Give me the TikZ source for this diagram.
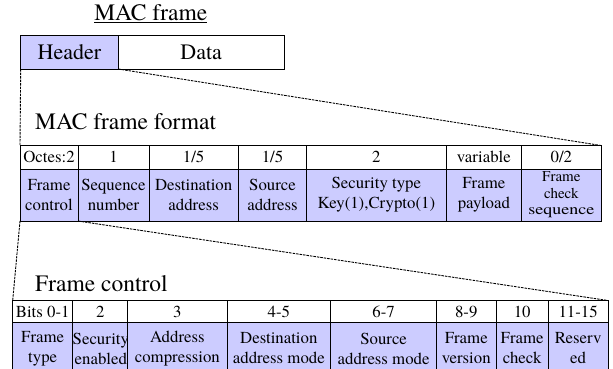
\documentclass[tikz,border=0pt]{standalone}
\usepackage{fontspec}
\setmainfont{TeX Gyre Termes}
\definecolor{cellfill}{RGB}{204,204,255}
\begin{document}
\begin{tikzpicture}[x=1pt,y=-1pt,
  cell/.style={draw=black, line width=1pt, inner sep=0pt, outer sep=0pt,
    anchor=north west, align=center, font=\fontsize{16.8}{20}\selectfont},
  head/.style={cell, fill=white},
  body/.style={cell, fill=cellfill},
  wh/.style 2 args={minimum width=#1pt, minimum height=#2pt},
  link/.style={line width=0.9pt, dash pattern=on 2.5pt off 1pt},
  heading/.style={font=\fontsize{23.5}{26}\selectfont, anchor=base west, inner sep=0pt}]
\useasboundingbox (0,0) rectangle (613,368);

% ---- MAC frame ----
\node[font=\fontsize{23.5}{26}\selectfont, anchor=base, inner sep=0pt] (t0) at (150.8,20.5) {\underline{MAC frame}};
\node[body, wh={97.6}{34}, font=\fontsize{22}{24}\selectfont] (hdr) at (20.7,35) {Header};
\node[head, wh={165.7}{34}, font=\fontsize{22}{24}\selectfont] (data) at (118.3,35) {Data};

% ---- MAC frame format ----
\node[heading] (t1) at (35,129) {MAC frame format};
\node[head, wh={58}{23.5}]   (mh1) at (20,145.5)  {Octes:2};
\node[head, wh={71}{23.5}]   (mh2) at (78,145.5)  {1};
\node[head, wh={89.3}{23.5}] (mh3) at (149,145.5) {1/5};
\node[head, wh={68.4}{23.5}] (mh4) at (238.3,145.5) {1/5};
\node[head, wh={139.3}{23.5}](mh5) at (306.7,145.5) {2};
\node[head, wh={75.7}{23.5}] (mh6) at (446,145.5) {variable};
\node[head, wh={79.3}{23.5}] (mh7) at (521.7,145.5) {0/2};

\node[body, wh={58}{52}]   (mb1) at (20,169)  {Frame\\control};
\node[body, wh={71}{52}]   (mb2) at (78,169)  {Sequence\\number};
\node[body, wh={89.3}{52}] (mb3) at (149,169) {Destination\\address};
\node[body, wh={68.4}{52}] (mb4) at (238.3,169) {Source\\address};
\node[body, wh={139.3}{52}](mb5) at (306.7,169) {Security type\\Key(1),Crypto(1)};
\node[body, wh={75.7}{52}] (mb6) at (446,169) {Frame\\payload};
\node[body, wh={79.3}{52}, font=\fontsize{15}{16.5}\selectfont] (mb7) at (521.7,169)
  {Frame\\check\\\scalebox{1.2}[1]{sequence}};

% ---- Frame control ----
\node[heading] (t2) at (35,291.5) {Frame control};
\node[head, wh={60}{22}]    (bh1) at (12.7,300.5) {Bits 0-1};
\node[head, wh={55}{22}]    (bh2) at (72.7,300.5) {2};
\node[head, wh={99.3}{22}]  (bh3) at (127.7,300.5) {3};
\node[head, wh={103.7}{22}] (bh4) at (227,300.5) {4-5};
\node[head, wh={105.8}{22}] (bh5) at (330.7,300.5) {6-7};
\node[head, wh={59.5}{22}]  (bh6) at (436.5,300.5) {8-9};
\node[head, wh={52.3}{22}]  (bh7) at (496,300.5) {10};
\node[head, wh={59.7}{22}]  (bh8) at (548.3,300.5) {11-15};

% the lower row runs past the bottom edge of the page
\node[body, wh={60}{52}]    (bb1) at (12.7,322.5) {Frame\\type};
\node[body, wh={55}{52}]    (bb2) at (72.7,322.5) {Security\\enabled};
\node[body, wh={99.3}{52}]  (bb3) at (127.7,322.5) {Address\\compression};
\node[body, wh={103.7}{52}] (bb4) at (227,322.5) {Destination\\address mode};
\node[body, wh={105.8}{52}] (bb5) at (330.7,322.5) {Source\\address mode};
\node[body, wh={59.5}{52}]  (bb6) at (436.5,322.5) {Frame\\version};
\node[body, wh={52.3}{52}]  (bb7) at (496,322.5) {Frame\\check};
\node[body, wh={59.7}{52}]  (bb8) at (548.3,322.5) {Reserv\\ed};

% ---- expansion links ----
\draw[link] (hdr.south west) -- (mh1.north west);
\draw[link] (hdr.south east) -- (mh7.north east);
\draw[link] (mb1.south west) -- (bh1.north west);
\draw[link] (mb1.south east) -- (bh8.north east);
\end{tikzpicture}
\end{document}
